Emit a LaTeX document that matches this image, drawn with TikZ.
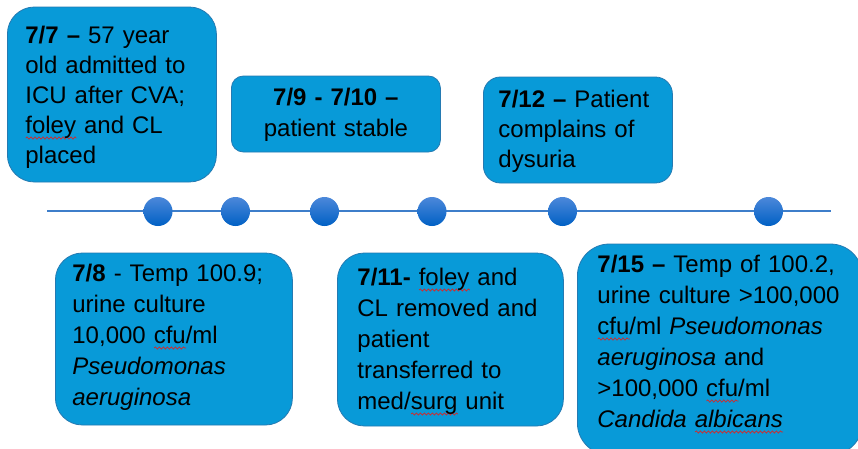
\documentclass[tikz,border=0pt]{standalone}
\usepackage{fontspec}
\setmainfont{Liberation Sans}
\usetikzlibrary{decorations.pathmorphing}

\definecolor{boxfill}{RGB}{8,154,216}
\definecolor{boxedge}{RGB}{36,122,178}
\definecolor{axisblue}{RGB}{62,126,202}
\definecolor{dottop}{RGB}{76,136,218}
\definecolor{dotbottom}{RGB}{0,96,196}
\definecolor{spellred}{RGB}{214,40,40}

% red wavy underline (spell-check style)
\newsavebox\spellbox
\newcommand\spellmark[1]{%
  \leavevmode
  \sbox\spellbox{#1}%
  \rlap{\tikz[baseline=0pt]\draw[spellred, line width=0.7pt, sharp corners,
      decorate, decoration={snake, amplitude=1.1pt, segment length=4pt}]
      (0pt,-5pt) -- (\wd\spellbox,-5pt);}%
  \usebox\spellbox}

\tikzset{
  evbox/.style={draw=boxedge, fill=boxfill, line width=0.8pt, inner ysep=0pt,
    anchor=base west, align=left, text=black},
  lowbox/.style={evbox, font=\fontsize{24}{31}\selectfont},
  evdot/.style={circle, minimum size=29pt, inner sep=0pt,
    top color=dottop, bottom color=dotbottom, draw=none},
  axis/.style={draw=axisblue, line width=1.4pt}
}

\begin{document}
\begin{tikzpicture}[x=1pt, y=-1pt, font=\fontsize{24}{30}\selectfont]
\clip (0,0) rectangle (858,448);
\fill[white] (0,0) rectangle (858,448);

% time axis
\coordinate (axL) at (47,211);
\coordinate (axR) at (831,211);
\draw[axis] (axL) -- (axR);
\node[evdot] (d1) at (158,211.5) {};
\node[evdot] (d2) at (235.5,211.5) {};
\node[evdot] (d3) at (324.5,211.5) {};
\node[evdot] (d4) at (432,211.5) {};
\node[evdot] (d5) at (562.5,211.5) {};
\node[evdot] (d6) at (768.5,211.5) {};

% upper events
\node[evbox, rounded corners=27pt, inner xsep=18pt, text width=173pt,
      text height=36pt, text depth=139pt] (e1) at (7,43)
  {\textbf{7/7 –} 57 year\\ old admitted to\\ ICU after CVA;\\ \spellmark{foley} and CL\\ placed};

\node[evbox, rounded corners=12pt, inner xsep=10pt, text width=189pt, align=center,
      text height=29pt, text depth=47pt, font=\fontsize{24}{31}\selectfont] (e2) at (231,105)
  {\textbf{7/9 - 7/10 –}\\ patient stable};

\node[evbox, rounded corners=17pt, inner xsep=15pt, text width=159pt,
      text height=30pt, text depth=76pt] (e3) at (483,107)
  {\textbf{7/12 –} Patient\\ complains of\\ dysuria};

% lower events
\node[lowbox, rounded corners=27pt, inner xsep=17pt, text width=203pt,
      text height=28pt, text depth=144pt] (e4) at (55,281)
  {\textbf{7/8} - Temp 100.9;\\ urine culture\\ 10,000 \spellmark{cfu}/ml\\ \textit{Pseudomonas}\\ \textit{aeruginosa}};

\node[lowbox, rounded corners=27pt, inner xsep=20pt, text width=186pt,
      text height=32pt, text depth=141pt] (e5) at (337,285)
  {\textbf{7/11-} \spellmark{foley} and\\ CL removed and\\ patient\\ transferred to\\ med/\spellmark{surg} unit};

\node[lowbox, rounded corners=32pt, inner xsep=20pt, text width=245pt,
      text height=28pt, text depth=183pt] (e6) at (577,272)
  {\textbf{7/15 –} Temp of 100.2,\\ urine culture >100,000\\ \spellmark{cfu}/ml \textit{Pseudomonas}\\ \textit{aeruginosa} and\\ >100,000 \spellmark{cfu}/ml\\ \textit{Candida \spellmark{albicans}}};
\end{tikzpicture}
\end{document}
